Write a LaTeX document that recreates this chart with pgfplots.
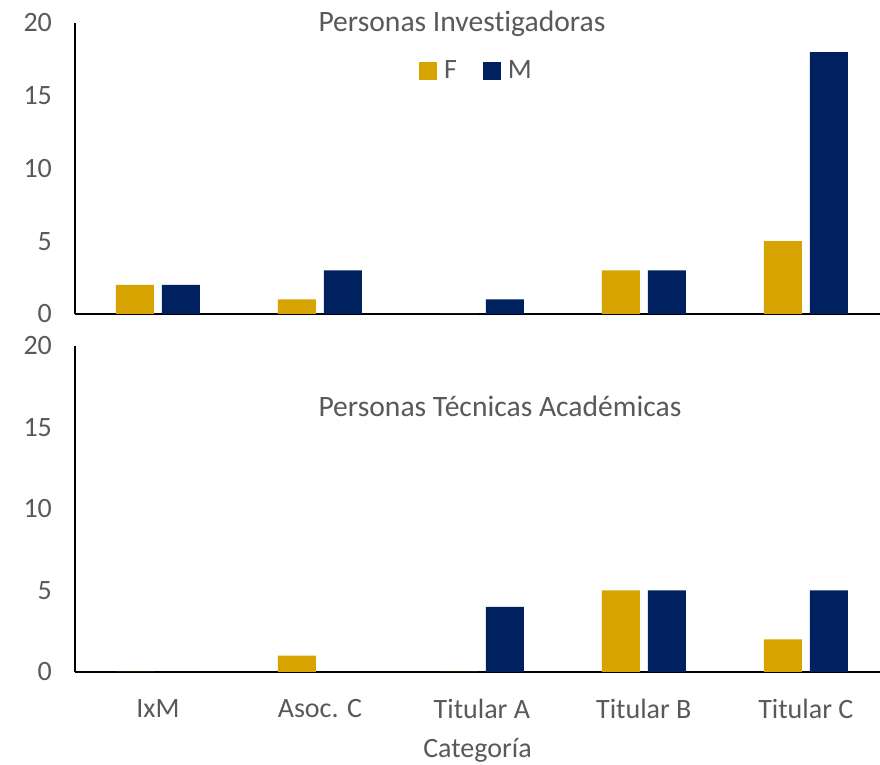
\documentclass[border=0pt]{standalone}
\usepackage{fontspec}
\setmainfont{Carlito}[Ligatures=NoCommon]
\usepackage{pgfplots}
\pgfplotsset{compat=1.18}

\definecolor{oro}{HTML}{D6A300}
\definecolor{azul}{HTML}{002060}
\definecolor{texto}{HTML}{595959}

\newcommand{\fsz}{\fontsize{14}{17}\selectfont}
\newcommand{\fttl}{\fontsize{14.8}{18}\selectfont}

\pgfplotsset{
  panel/.style={
    scale only axis,
    width=402.5pt,
    xmin=-0.512, xmax=4.458,
    ymin=0, ymax=20,
    ytick={0,5,10,15,20},
    xtick={0,1,2,3,4},
    axis x line*=bottom,
    axis y line*=left,
    axis line style={black, line width=1pt},
    major tick length=0pt,
    font=\fsz,
    ticklabel style={font=\fsz, text=texto},
    yticklabel style={xshift=-8pt},
    /pgf/number format/assume math mode=true,
    ybar,
    bar width=19pt,
    clip=false,
  },
  fserie/.style={fill=oro, draw=none, bar shift=-11.5pt},
  mserie/.style={fill=azul, draw=none, bar shift=11.5pt},
}

\begin{document}
\begin{tikzpicture}
% arriba: personas investigadoras
\begin{axis}[
  panel,
  name=top,
  height=145.5pt,
  xticklabels={},
  legend style={at={(axis description cs:0.5,1)}, anchor=center, yshift=-24pt,
    draw=none, fill=none, legend columns=2, font=\fsz, text=texto,
    /tikz/every odd column/.append style={column sep=1.5pt},
    /tikz/every even column/.append style={column sep=11pt}},
  legend image code/.code={\fill[#1] (0pt,-4.5pt) rectangle (9pt,4.5pt);},
]
\addplot[fserie] coordinates {(0,2) (1,1) (2,0) (3,3) (4,5)};
\addplot[mserie] coordinates {(0,2) (1,3) (2,1) (3,3) (4,18)};
\legend{F, M}
\node[anchor=base west, inner xsep=0pt, text=texto, font=\fttl]
  at (rel axis cs:0.302,1) [yshift=-4.5pt] {Personas Investigadoras};
\end{axis}

% abajo: personas técnicas académicas
\begin{axis}[
  panel,
  at={(0,-16pt)}, anchor=north west,
  height=163pt,
  xticklabels={IxM, Asoc. C, Titular A, Titular B, Titular C},
  xticklabel style={yshift=-10pt},
  xlabel={Categoría},
  xlabel style={at={(axis description cs:0.5,0)}, anchor=north, yshift=-29.5pt, text=texto, font=\fsz},
]
\addplot[fserie] coordinates {(0,0) (1,1) (2,0) (3,5) (4,2)};
\addplot[mserie] coordinates {(0,0) (1,0) (2,4) (3,5) (4,5)};
\node[anchor=base west, inner xsep=0pt, text=texto, font=\fttl]
  at (rel axis cs:0.302,1) [yshift=-35.5pt] {Personas Técnicas Académicas};
\end{axis}

\pgfresetboundingbox
\path (top.south west) ++(-37.5pt,-225.5pt) rectangle ++(440pt,382.5pt);
\end{tikzpicture}
\end{document}
